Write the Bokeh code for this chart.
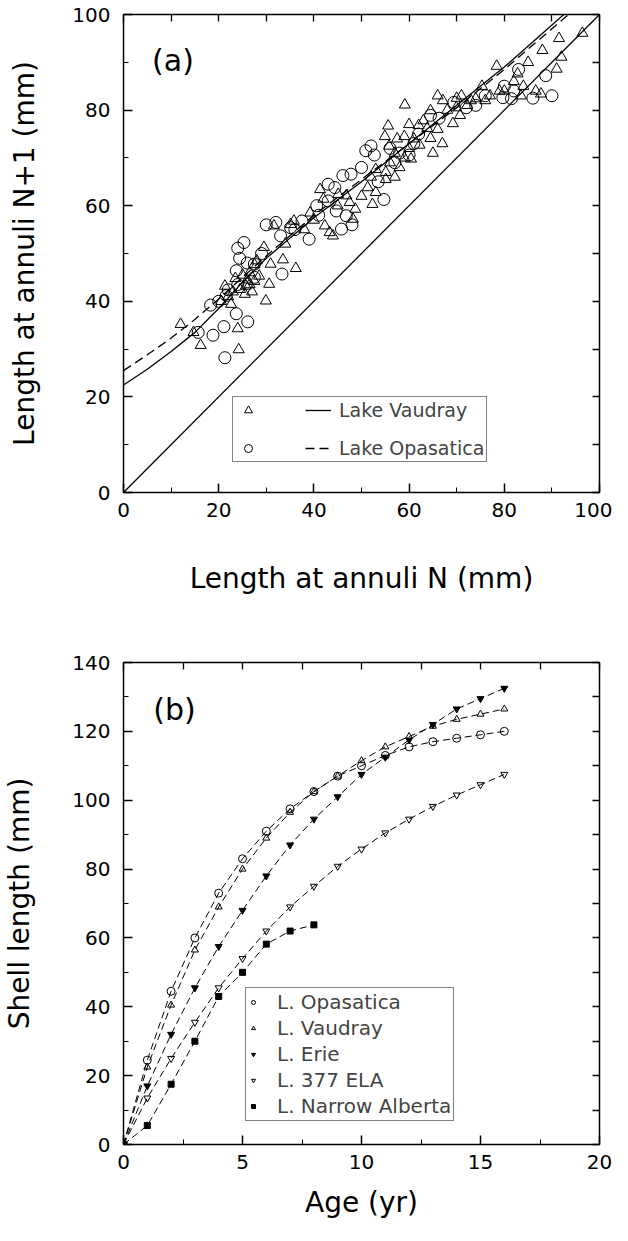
from bokeh.plotting import figure
from bokeh.models import LinearAxis, Legend, LegendItem, Label, Range1d, FixedTicker
from bokeh.layouts import column
from bokeh.embed import file_html
from bokeh.resources import INLINE

FONT = "DejaVu Sans"

# ---------------- Panel (a): Walford plot ----------------
vaudray_n = [12.0, 14.7, 16.2, 20.5, 21.3, 22.0, 22.6, 23.0, 23.5, 24.0, 24.2, 24.5, 25.0, 25.5, 25.7,
             26.0, 26.5, 26.5, 27.0, 27.5, 27.5, 28.0, 28.5, 29.5, 29.9, 30.6, 30.9, 31.6, 33.5, 34.0,
             35.1, 35.8, 36.2, 38.0, 39.2, 40.0, 41.3, 42.0, 42.3, 43.3, 44.0, 45.0, 45.1, 46.8, 47.5,
             48.2, 48.7, 50.0, 51.3, 52.0, 52.3, 53.0, 53.0, 55.1, 55.1, 55.8, 56.0, 57.0, 57.0, 57.5,
             54.9, 55.6, 58.0, 59.0, 59.1, 60.0, 60.4, 61.0, 59.0, 60.0, 62.0, 62.2, 63.0, 63.8, 64.5,
             64.5, 65.0, 66.0, 66.0, 67.0, 67.1, 68.0, 69.2, 69.9, 70.0, 70.7, 71.0, 72.2, 73.0, 74.0,
             75.3, 76.0, 77.0, 78.4, 79.0, 80.0, 82.0, 82.8, 83.5, 84.0, 85.0, 86.6, 87.7, 88.0, 91.0,
             92.0, 91.5, 96.4]
vaudray_n1 = [35.2, 33.5, 30.8, 40.0, 43.2, 41.0, 39.4, 42.0, 44.8, 34.3, 29.9, 42.5, 45.5, 41.5, 43.2,
              44.5, 46.0, 43.5, 42.0, 47.7, 44.2, 48.5, 45.3, 51.3, 40.1, 43.6, 47.8, 55.8, 48.7, 52.0,
              56.1, 56.8, 46.9, 55.0, 58.5, 57.0, 63.4, 61.4, 55.8, 54.4, 53.7, 60.0, 62.4, 62.1, 60.7,
              57.2, 59.3, 62.0, 63.8, 66.0, 60.3, 62.8, 67.6, 65.5, 67.0, 72.5, 69.0, 66.0, 71.0, 74.0,
              74.5, 76.7, 68.0, 70.0, 81.1, 72.0, 69.8, 74.0, 74.5, 77.0, 76.8, 72.7, 77.8, 76.2, 79.9,
              74.1, 71.0, 76.0, 83.0, 73.0, 82.0, 80.0, 77.2, 80.5, 82.5, 78.9, 83.0, 81.0, 82.0, 82.4,
              85.0, 82.0, 83.0, 89.2, 84.0, 84.0, 86.0, 87.6, 83.0, 85.0, 90.0, 84.0, 83.4, 92.5, 88.6,
              91.1, 95.0, 96.1]

opasatica_n = [15.7, 18.3, 18.8, 20.0, 21.1, 21.3, 21.6, 22.0, 23.7, 23.7, 24.0, 24.0, 24.4, 25.3, 26.0,
               26.1, 27.5, 27.5, 29.0, 30.0, 32.0, 33.0, 33.3, 35.1, 36.0, 37.5, 39.0, 40.6, 41.0, 43.0,
               43.0, 44.4, 44.7, 45.8, 46.1, 46.8, 47.8, 48.0, 50.0, 50.9, 52.0, 52.7, 53.5, 54.7, 56.0,
               57.0, 58.0, 60.0, 61.0, 62.0, 64.5, 66.3, 69.4, 72.0, 74.0, 76.0, 79.7, 80.0, 81.5, 82.0,
               83.0, 86.0, 88.7, 90.0]
opasatica_n1 = [33.5, 39.2, 32.9, 40.0, 34.7, 28.2, 41.2, 42.4, 37.4, 46.4, 51.1, 43.5, 49.0, 52.3, 48.0,
                35.7, 45.0, 47.8, 50.0, 56.0, 56.5, 53.7, 45.7, 55.4, 55.0, 56.8, 53.0, 60.0, 58.0, 61.0,
                64.5, 63.8, 58.9, 55.1, 66.3, 57.9, 66.6, 56.0, 68.0, 71.5, 72.5, 70.6, 65.0, 61.3, 72.0,
                69.0, 71.0, 70.6, 73.0, 75.0, 78.9, 78.3, 81.6, 80.5, 81.0, 83.0, 82.6, 85.0, 82.4, 84.0,
                88.5, 82.5, 87.2, 83.0]

fit_vaudray_x = [0, 5, 10, 15, 20, 25, 30, 40, 50, 60, 70, 80, 92.5]
fit_vaudray_y = [22.5, 25.8, 29.5, 33.5, 38.5, 44.0, 49.0, 57.5, 65.0, 73.0, 81.0, 89.0, 100.0]
fit_opasatica_x = [0, 5, 10, 15, 20, 25, 30, 40, 50, 60, 70, 80, 93.5]
fit_opasatica_y = [25.5, 28.8, 32.3, 36.2, 40.5, 45.0, 49.5, 58.0, 65.5, 73.0, 80.5, 88.5, 100.0]
one_to_one = [0, 100]

# ---------------- Panel (b): growth curves ----------------
age = list(range(17))
opasatica_len = [0, 24.5, 44.5, 60, 73, 83, 91, 97.5, 102.5, 107, 110, 113, 115.5, 117, 118, 119, 120]
vaudray_len = [0, 22.5, 40.5, 56.5, 69, 80, 89, 96.5, 102.5, 107, 111.5, 115.5, 118.5, 121.5, 123.5, 125, 126.5]
erie_len = [0, 17, 32, 45.5, 57.5, 68, 78, 87, 94.5, 101, 107.5, 112.5, 117.5, 122, 126.5, 129.5, 132.5]
ela_len = [0, 13.5, 25, 35.5, 45.5, 54, 62, 69, 75, 80.8, 85.8, 90.5, 94.5, 98.2, 101.5, 104.5, 107.5]
narrow_age = list(range(9))
narrow_len = [0, 5.5, 17.5, 30, 43, 50, 58.2, 62, 63.8]

a_xticks, a_xminor = [0, 20, 40, 60, 80, 100], [10, 30, 50, 70, 90]
b_xticks, b_xminor = [0, 5, 10, 15, 20], [2.5, 7.5, 12.5, 17.5]
b_yticks, b_yminor = [0, 20, 40, 60, 80, 100, 120, 140], [10, 30, 50, 70, 90, 110, 130]


def frame_axes(p, xticks, xminor, yticks, yminor, xlabel, ylabel, xstand, ystand):
    bx = p.below[0]
    ly = p.left[0]
    bx.ticker = FixedTicker(ticks=xticks, minor_ticks=xminor)
    ly.ticker = FixedTicker(ticks=yticks, minor_ticks=yminor)
    # opposite sides: tick marks only (no labels)
    top = LinearAxis(ticker=FixedTicker(ticks=[], minor_ticks=sorted(xticks + xminor)))
    right = LinearAxis(ticker=FixedTicker(ticks=[], minor_ticks=sorted(yticks + yminor)))
    p.add_layout(top, "above")
    p.add_layout(right, "right")
    for ax in (bx, ly, top, right):
        ax.axis_line_color = "black"
        ax.axis_line_width = 1.5
        ax.major_tick_in = 9
        ax.major_tick_out = 0
        ax.minor_tick_in = 5
        ax.minor_tick_out = 0
        ax.major_tick_line_color = "black"
        ax.minor_tick_line_color = "black"
        ax.major_tick_line_width = 1.5
        ax.minor_tick_line_width = 1
        ax.major_label_text_font = FONT
        ax.major_label_text_font_size = "20px"
        ax.major_label_text_color = "black"
        ax.axis_label_text_font = FONT
        ax.axis_label_text_font_style = "normal"
        ax.axis_label_text_font_size = "28px"
        ax.axis_label_text_color = "black"
    for ax in (top, right):
        ax.minor_tick_in = 7
        ax.minor_tick_line_width = 1.3
        ax.major_label_standoff = 0
    bx.axis_label = xlabel
    ly.axis_label = ylabel
    bx.major_label_standoff = 10
    ly.major_label_standoff = 13
    bx.axis_label_standoff = xstand
    ly.axis_label_standoff = ystand
    p.grid.visible = False
    p.outline_line_color = "black"
    p.background_fill_color = "white"
    p.border_fill_color = "white"


# ---- figure (a)
p1 = figure(width=612, height=612, x_range=Range1d(0, 100), y_range=Range1d(0, 100),
            output_backend="svg", toolbar_location=None,
            min_border_left=116, min_border_right=13, min_border_top=14, min_border_bottom=120)
frame_axes(p1, a_xticks, a_xminor, a_xticks, a_xminor,
           "Length at annuli N (mm)", "Length at annuli N+1 (mm)", 42, 28)

p1.line(one_to_one, one_to_one, line_color="black", line_width=1.3)
r_vl = p1.line(fit_vaudray_x, fit_vaudray_y, line_color="black", line_width=1.3)
r_ol = p1.line(fit_opasatica_x, fit_opasatica_y, line_color="black", line_width=1.3, line_dash="9 5")
r_vt = p1.scatter(vaudray_n, vaudray_n1, marker="triangle", size=11, fill_color=None,
                  line_color="black", line_width=1)
r_oc = p1.scatter(opasatica_n, opasatica_n1, marker="circle", size=12, fill_color=None,
                  line_color="black", line_width=1)

leg_a = Legend(items=[LegendItem(label=" ", renderers=[r_vt]),
                      LegendItem(label=" ", renderers=[r_oc]),
                      LegendItem(label="Lake Vaudray", renderers=[r_vl]),
                      LegendItem(label="Lake Opasatica", renderers=[r_ol])],
               ncols=2, orientation="vertical", location=(109, 30),
               label_text_font=FONT, label_text_font_size="19px",
               glyph_width=26, glyph_height=20, label_height=20, label_standoff=8,
               spacing=16, padding=2, margin=0,
               border_line_color="black", border_line_width=1,
               background_fill_color="white", background_fill_alpha=1)
p1.add_layout(leg_a)
p1.add_layout(Label(x=6, y=90.4, text="(a)", text_baseline="middle", text_font=FONT,
                    text_font_size="30px", text_color="black"))

# ---- figure (b)
p2 = figure(width=612, height=613, x_range=Range1d(0, 20), y_range=Range1d(0, 140),
            output_backend="svg", toolbar_location=None,
            min_border_left=120, min_border_right=11, min_border_top=50, min_border_bottom=81)
frame_axes(p2, b_xticks, b_xminor, b_yticks, b_yminor,
           "Age (yr)", "Shell length (mm)", 14, 33)

dash = "7 4"
series = [
    ("L. Opasatica", age, opasatica_len, "circle", 8, None),
    ("L. Vaudray", age, vaudray_len, "triangle", 7, None),
    ("L. Erie", age, erie_len, "inverted_triangle", 7, "black"),
    ("L. 377 ELA", age, ela_len, "inverted_triangle", 7, None),
    ("L. Narrow Alberta", narrow_age, narrow_len, "square", 6, "black"),
]
items_b = []
for name, xs, ys, mk, sz, fc in series:
    p2.line(xs, ys, line_color="black", line_width=1, line_dash=dash)
    r = p2.scatter(xs, ys, marker=mk, size=sz, fill_color=fc, line_color="black", line_width=1)
    items_b.append(LegendItem(label=name, renderers=[r]))

leg_b = Legend(items=items_b, location=(122, 23),
               label_text_font=FONT, label_text_font_size="20px",
               glyph_width=10, glyph_height=20, label_height=20, label_standoff=19,
               spacing=2, padding=2, margin=0,
               border_line_color="black", border_line_width=1,
               background_fill_color="white", background_fill_alpha=1)
p2.add_layout(leg_b)
p2.add_layout(Label(x=1.25, y=126.3, text="(b)", text_baseline="middle", text_font=FONT,
                    text_font_size="30px", text_color="black"))

layout = column(p1, p2, spacing=0)
open("out.html", "w").write(file_html(layout, INLINE))
